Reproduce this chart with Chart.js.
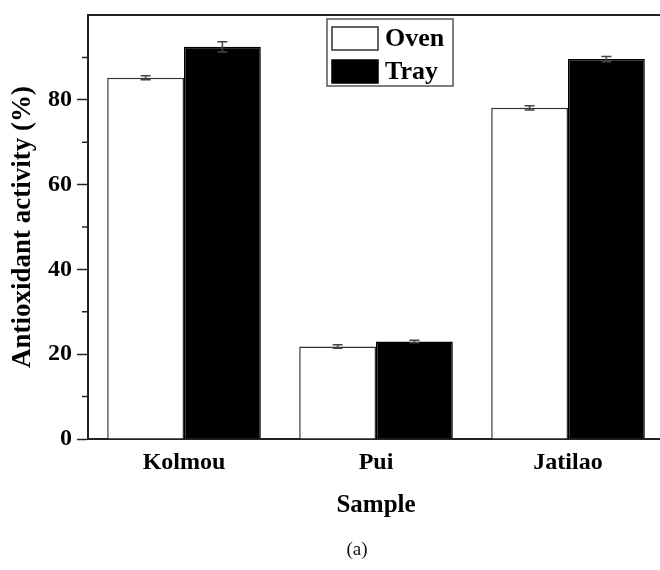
<!DOCTYPE html>
<html>
<head>
<meta charset="utf-8">
<script src="https://cdn.jsdelivr.net/npm/chart.js@4"></script>
<style>
  html, body { margin: 0; padding: 0; background: #fff; overflow: hidden; }
  #wrap { width: 680px; height: 570px; position: relative; }
</style>
</head>
<body>
<div id="wrap"><canvas id="chart"></canvas></div>
<script>
// data
const samples = ['Kolmou', 'Pui', 'Jatilao'];
const ovenVals = [85.2, 21.8, 78.1];
const trayVals = [92.5, 23.0, 89.6];
const ovenErr = [0.5, 0.4, 0.5];
const trayErr = [1.2, 0.3, 0.6];
const yTicks = [0, 20, 40, 60, 80];

const serif = '"Liberation Serif", "Times New Roman", serif';

// error bars + frame + legend + caption, drawn on top
const extras = {
  id: 'extras',
  afterDatasetsDraw(chart) {
    const ctx = chart.ctx;
    const y = chart.scales.y;
    const area = chart.chartArea;
    const errs = [ovenErr, trayErr];

    ctx.save();
    chart.data.datasets.forEach((ds, i) => {
      const meta = chart.getDatasetMeta(i);
      meta.data.forEach((bar, j) => {
        const v = ds.data[j], e = errs[i][j];
        const top = y.getPixelForValue(v + e);
        const bot = y.getPixelForValue(v - e);
        ctx.strokeStyle = '#444';
        ctx.lineWidth = 1.5;
        ctx.beginPath();
        ctx.moveTo(bar.x, top); ctx.lineTo(bar.x, bot);
        ctx.moveTo(bar.x - 5, top); ctx.lineTo(bar.x + 5, top);
        ctx.moveTo(bar.x - 5, bot); ctx.lineTo(bar.x + 5, bot);
        ctx.stroke();
      });
    });

    // top and right frame lines
    ctx.strokeStyle = '#222';
    ctx.lineWidth = 2;
    ctx.beginPath();
    ctx.moveTo(area.left, area.top); ctx.lineTo(area.right, area.top);
    ctx.lineTo(area.right, area.bottom);
    ctx.stroke();

    // minor ticks
    ctx.lineWidth = 1.5;
    ctx.beginPath();
    [10, 30, 50, 70, 90].forEach(v => {
      const py = y.getPixelForValue(v);
      ctx.moveTo(area.left - 6, py); ctx.lineTo(area.left, py);
    });
    ctx.stroke();

    // legend box
    const lx = area.left + 239, ly = area.top + 4;
    ctx.strokeStyle = '#555';
    ctx.lineWidth = 1.5;
    ctx.fillStyle = '#fff';
    ctx.fillRect(lx, ly, 126, 67);
    ctx.strokeRect(lx, ly, 126, 67);
    ctx.font = 'bold 26px ' + serif;
    ctx.textBaseline = 'middle';
    chart.data.datasets.forEach((ds, i) => {
      const sy = ly + 8 + i * 33;
      ctx.fillStyle = ds.backgroundColor;
      ctx.fillRect(lx + 5, sy, 46, 23);
      ctx.strokeStyle = ds.borderColor;
      ctx.lineWidth = 1.5;
      ctx.strokeRect(lx + 5, sy, 46, 23);
      ctx.fillStyle = '#000';
      ctx.fillText(ds.label, lx + 58, sy + 12);
    });

    // caption
    ctx.font = '19px ' + serif;
    ctx.textAlign = 'center';
    ctx.fillStyle = '#111';
    ctx.fillText('(a)', 357, 550);
    ctx.restore();
  }
};

new Chart(document.getElementById('chart'), {
  type: 'bar',
  data: {
    labels: samples,
    datasets: [
      { label: 'Oven', data: ovenVals, backgroundColor: '#ffffff', borderColor: '#333', borderWidth: 1.5 },
      { label: 'Tray', data: trayVals, backgroundColor: '#000000', borderColor: '#000', borderWidth: 1.5 }
    ]
  },
  options: {
    responsive: true,
    maintainAspectRatio: false,
    animation: false,
    layout: { padding: { left: 0, top: 15, right: 16, bottom: 0 } },
    plugins: { legend: { display: false }, tooltip: { enabled: false } },
    datasets: { bar: { categoryPercentage: 0.8, barPercentage: 1.0 } },
    scales: {
      x: {
        grid: { display: false, drawTicks: false },
        border: { display: true, color: '#222', width: 2 },
        ticks: { color: '#000', padding: 9, font: { family: serif, size: 24, weight: 'bold' } },
        title: {
          display: true, text: 'Sample', color: '#000',
          font: { family: serif, size: 25, weight: 'bold' },
          padding: { top: 0, bottom: 49 }
        },
        afterFit(scale) { scale.height = 131; }
      },
      y: {
        min: 0, max: 100,
        grid: {
          drawOnChartArea: false, tickLength: 11, tickWidth: 1.5,
          tickColor: c => (c.tick && c.tick.value % 20 === 0 && c.tick.value < 100) ? '#222' : 'rgba(0,0,0,0)'
        },
        border: { display: true, color: '#222', width: 2 },
        ticks: {
          stepSize: 10, color: '#000', padding: 5,
          font: { family: serif, size: 24, weight: 'bold' },
          callback: v => yTicks.includes(v) ? String(v) : ''
        },
        title: {
          display: true, text: 'Antioxidant activity (%)', color: '#000',
          font: { family: serif, size: 27, weight: 'bold' },
          padding: { top: 7, bottom: 0 }
        },
        afterFit(scale) {
          scale.width = 88;
          scale.paddingTop = 0;
          scale.paddingBottom = 0;
        }
      }
    }
  },
  plugins: [extras]
});
</script>
</body>
</html>
